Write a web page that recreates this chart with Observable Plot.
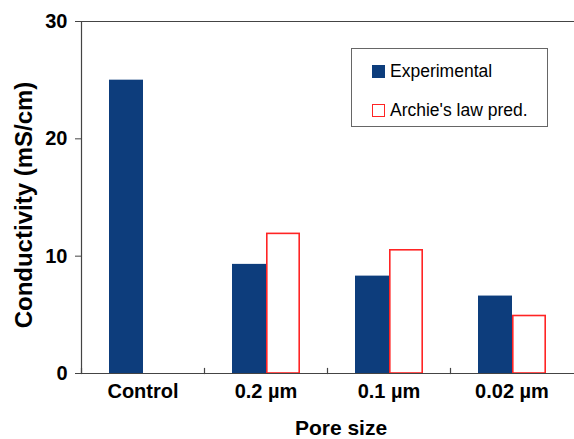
<!DOCTYPE html>
<html>
<head>
<meta charset="utf-8">
<script src="https://cdn.jsdelivr.net/npm/d3@7"></script>
<script src="https://cdn.jsdelivr.net/npm/@observablehq/plot@0.6"></script>
<style>
  html, body { margin: 0; padding: 0; background: #fff; }
  #wrap { position: relative; width: 574px; height: 439px; font-family: "Liberation Sans", Arial, sans-serif; }
  #wrap svg { position: absolute; left: 0; top: 0; }
  .lbl { position: absolute; font-weight: bold; color: #000; white-space: nowrap; line-height: 1; }
  #xlabel { font-size: 21px; left: 341px; top: 417px; transform: translateX(-50%); }
  #ylabel { font-size: 24px; left: 24px; top: 205px; transform: translate(-50%, -50%) rotate(-90deg); }
  #legend { position: absolute; left: 351px; top: 48px; width: 197px; height: 79px; border: 1px solid #666; background: #fff; box-sizing: border-box; }
  .item { position: absolute; left: 20px; display: flex; align-items: center; font-size: 17.5px; color: #000; white-space: nowrap; }
  .sw { width: 13px; height: 13px; box-sizing: border-box; margin-right: 5px; }
</style>
</head>
<body>
<div id="wrap"></div>
<script>
const categories = ["Control", "0.2 µm", "0.1 µm", "0.02 µm"];
const seriesNames = ["Experimental", "Archie's law pred."];
const experimental = [25, 9.3, 8.3, 6.6];
const archie = [null, 11.9, 10.5, 4.9];
const yTicks = [0, 10, 20, 30];
const xTitle = "Pore size";
const yTitle = "Conductivity (mS/cm)";

const blue = "#0d3d7c";
const red = "#ff2424";

const expRows = categories.map((c, i) => ({cat: c, series: seriesNames[0], value: experimental[i]}));
const archRows = categories.map((c, i) => ({cat: c, series: seriesNames[1], value: archie[i]})).filter(d => d.value != null);

const plot = Plot.plot({
  width: 574,
  height: 439,
  marginTop: 21,
  marginBottom: 66,
  marginLeft: 80,
  marginRight: 0,
  style: {fontFamily: "'Liberation Sans', Arial, sans-serif", fontWeight: "bold", fontSize: "20px", color: "#000", background: "transparent"},
  fx: {domain: categories, padding: 0, label: null},
  x: {domain: seriesNames, paddingInner: 0, paddingOuter: 0.76, align: 0.5, axis: null},
  y: {domain: [0, 30], axis: null},
  marks: [
    Plot.barY(expRows, {fx: "cat", x: "series", y: "value", fill: blue}),
    Plot.barY(archRows, {fx: "cat", x: "series", y: "value", fill: "white", stroke: red, strokeWidth: 1.6, insetLeft: 0.8, insetRight: 0.8}),
    Plot.frame({anchor: "top", stroke: "#444", strokeWidth: 1.2}),
    Plot.frame({anchor: "bottom", stroke: "#444", strokeWidth: 1.2}),
    Plot.frame({anchor: "left", stroke: "#444", strokeWidth: 1.2, insetTop: 347}),
    Plot.frame({anchor: "left", stroke: "#444", strokeWidth: 1.2, facetAnchor: "left"}),
    Plot.axisY({ticks: yTicks, tickSize: 6, tickPadding: 8, label: null, stroke: "#444", fontSize: 20, fontWeight: "bold"}),
    Plot.axisFx({anchor: "bottom", tickSize: 0, tickPadding: 10, label: null, fontSize: 20, fontWeight: "bold"})
  ]
});

const wrap = document.getElementById("wrap");
wrap.appendChild(plot);

const xl = document.createElement("div");
xl.className = "lbl"; xl.id = "xlabel"; xl.textContent = xTitle;
wrap.appendChild(xl);
const yl = document.createElement("div");
yl.className = "lbl"; yl.id = "ylabel"; yl.textContent = yTitle;
wrap.appendChild(yl);

const legend = document.createElement("div");
legend.id = "legend";
seriesNames.forEach((name, i) => {
  const it = document.createElement("div");
  it.className = "item";
  it.style.top = (i === 0 ? 12 : 51) + "px";
  const sw = document.createElement("span");
  sw.className = "sw";
  if (i === 0) { sw.style.background = blue; }
  else { sw.style.background = "#fff"; sw.style.border = "1.6px solid " + red; }
  it.appendChild(sw);
  const t = document.createElement("span");
  t.textContent = name;
  it.appendChild(t);
  legend.appendChild(it);
});
wrap.appendChild(legend);
</script>
</body>
</html>
